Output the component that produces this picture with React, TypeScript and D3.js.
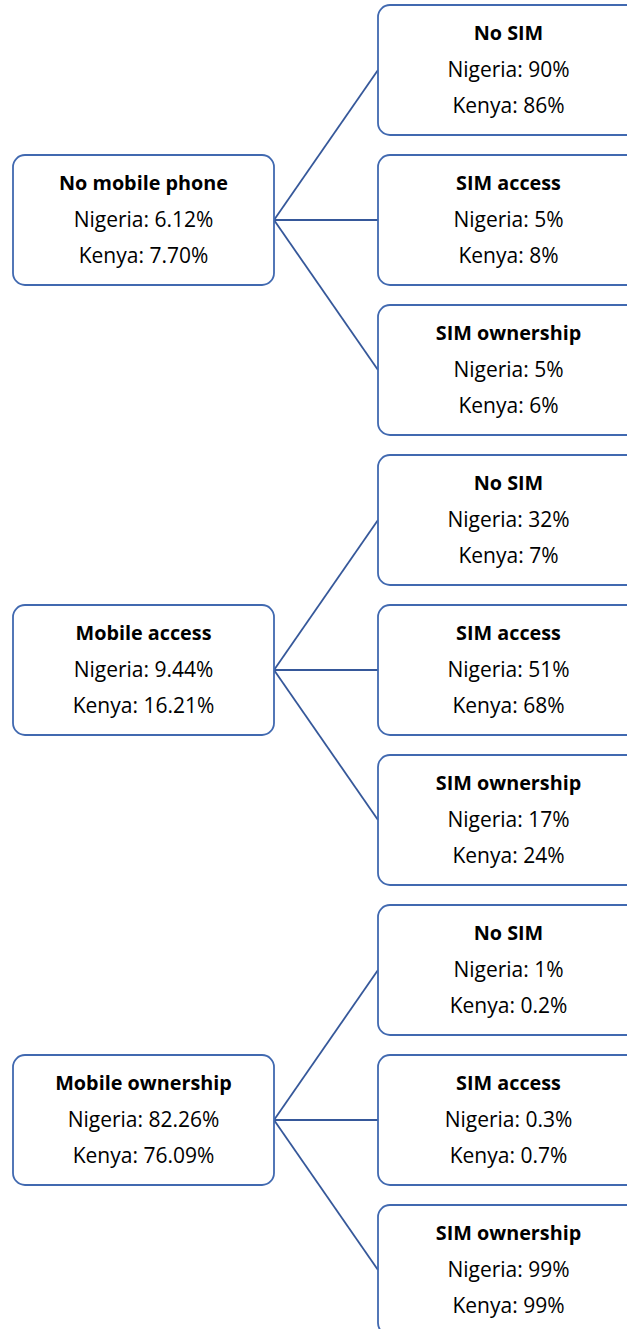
import React from "react";
import * as d3 from "d3";

const groups = ["No mobile phone", "Mobile access", "Mobile ownership"];
const groupNigeria = ["6.12%", "9.44%", "82.26%"];
const groupKenya = ["7.70%", "16.21%", "76.09%"];
const simCategories = ["No SIM", "SIM access", "SIM ownership"];
const simNigeria = [["90%", "5%", "5%"], ["32%", "51%", "17%"], ["1%", "0.3%", "99%"]];
const simKenya = [["86%", "8%", "6%"], ["7%", "68%", "24%"], ["0.2%", "0.7%", "99%"]];

const W = 627, H = 1329;
const BOX_W = 261, GAP = 20;
const BORDER = "#4169B0", LINK = "#36589A";
const FONT = "'Open Sans', 'Noto Sans', sans-serif";

export default function App() {
  const rowY = d3.scaleLinear().domain([0, 9]).range([5, 1355]);
  const boxH = rowY(1) - rowY(0) - GAP;
  const colX = d3.scalePoint<string>().domain(["parent", "child"]).range([13, 378]);

  const Box = ({ x, y, title, a, b }: { x: number; y: number; title: string; a: string; b: string }) => (
    <g transform={`translate(${x},${y})`}>
      <rect x={0} y={0} width={BOX_W} height={boxH} rx={12} fill="#fff" stroke={BORDER} strokeWidth={1.8} />
      <g fontFamily={FONT} fill="#000" textAnchor="middle">
        <text x={BOX_W / 2} y={35} fontWeight="bold" fontSize={19.8}>{title}</text>
        <text x={BOX_W / 2} y={72} fontSize={21}>{`Nigeria: ${a}`}</text>
        <text x={BOX_W / 2} y={108} fontSize={21}>{`Kenya: ${b}`}</text>
      </g>
    </g>
  );

  return (
    <svg width={W} height={H} style={{ position: "absolute", left: 0, top: 0, background: "#fff" }}>
      {groups.map((g, gi) => {
        const px = colX("parent")!, cx = colX("child")!;
        const py = rowY(gi * 3 + 1);
        const pMid = py + boxH / 2;
        return (
          <g key={g}>
            {simCategories.map((s, si) => {
              const cy = rowY(gi * 3 + si) + boxH / 2;
              return <line key={s} x1={px + BOX_W} y1={pMid} x2={cx} y2={cy} stroke={LINK} strokeWidth={1.8} />;
            })}
            <Box x={px} y={py} title={g} a={groupNigeria[gi]} b={groupKenya[gi]} />
            {simCategories.map((s, si) => (
              <Box key={s} x={cx} y={rowY(gi * 3 + si)} title={s} a={simNigeria[gi][si]} b={simKenya[gi][si]} />
            ))}
          </g>
        );
      })}
    </svg>
  );
}
